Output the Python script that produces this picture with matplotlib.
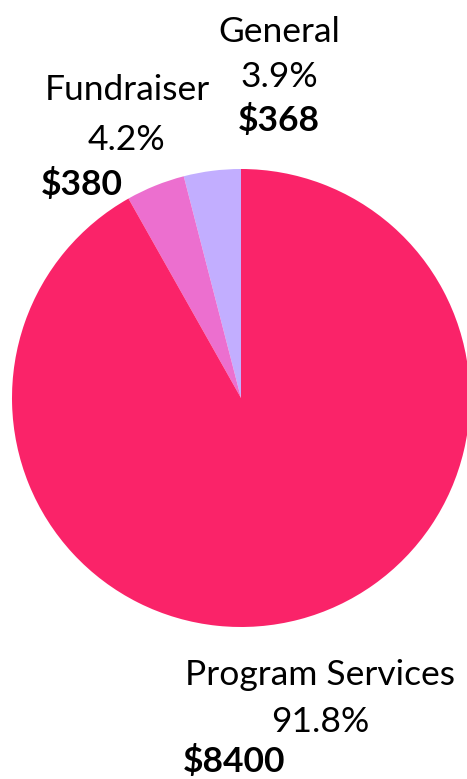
import matplotlib
matplotlib.use("Agg")
import matplotlib.pyplot as plt

# DATA
labels = ["General", "Fundraiser", "Program Services"]
amounts = [368, 380, 8400]
pct_labels = ["3.9%", "4.2%", "91.8%"]
amount_labels = ["$368", "$380", "$8400"]
colors = ["#C2AEFF", "#EC6FCF", "#FA2369"]

W, H = 467, 779
fig = plt.figure(figsize=(W / 100, H / 100), dpi=100)
ax = fig.add_axes([0, 0, 1, 1])

ax.pie(amounts, colors=colors, startangle=90, counterclock=True,
       center=(241, H - 398), radius=229, frame=True,
       wedgeprops={"linewidth": 0})
ax.set_xlim(0, W)
ax.set_ylim(0, H)
ax.set_aspect("equal")
ax.axis("off")

font = "Lato"
fs = 25.5

# label positions: (x name, y name baseline, x pct, y pct, x amt, y amt), pixels from top
pos = [
    (279, 42, 279, 87, 279, 131),
    (127, 100, 126, 150, 82, 195),
    (320, 685, 320, 732, 234, 772),
]

for i, (xn, yn, xp, yp, xa, ya) in enumerate(pos):
    ax.text(xn, H - yn, labels[i], ha="center", va="baseline", fontsize=fs, family=font)
    ax.text(xp, H - yp, pct_labels[i], ha="center", va="baseline", fontsize=fs, family=font)
    ax.text(xa, H - ya, amount_labels[i], ha="center", va="baseline", fontsize=fs,
            family=font, fontweight="bold")

fig.savefig("out.png", dpi=100)
